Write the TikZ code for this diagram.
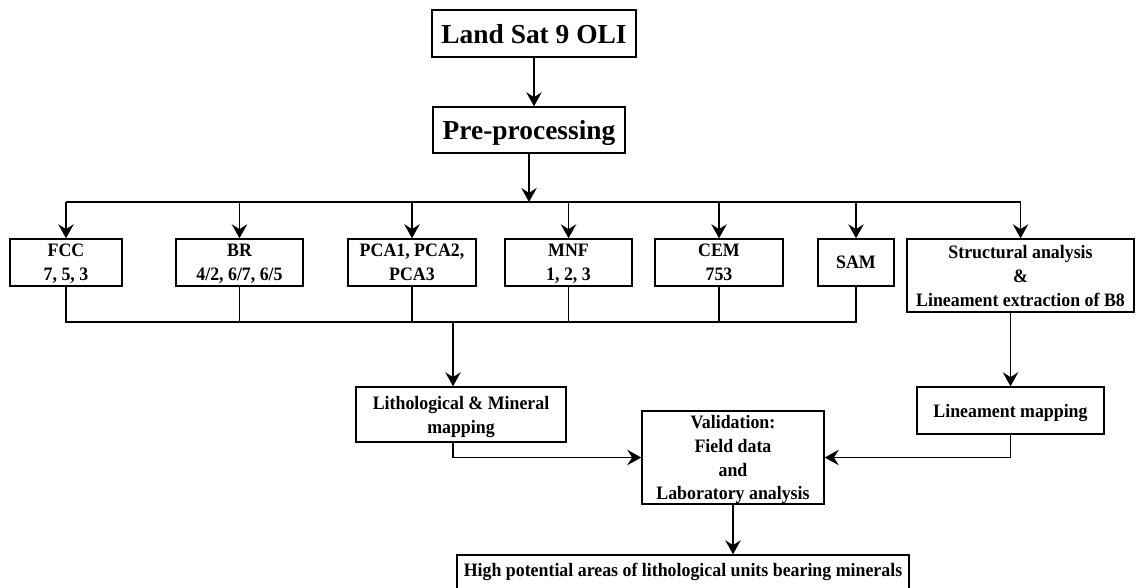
\documentclass[tikz,border=0pt]{standalone}
\usepackage{fontspec}
\setmainfont{Liberation Serif}[FakeStretch=0.94]
\newfontfamily\wideserif{Liberation Serif}
\usetikzlibrary{arrows.meta}

\tikzset{
  box/.style={draw, line width=1pt, inner sep=0pt, align=center, text depth=0pt,
    font=\fontsize{13.5}{17}\selectfont\bfseries},
  bigbox/.style={box, font=\wideserif\fontsize{19.5}{22}\selectfont\bfseries},
  arr/.style={-{Stealth[length=10pt,width=11pt,inset=3.5pt]}, line width=1pt},
  ln/.style={line width=1pt}
}

\begin{document}
\begin{tikzpicture}[x=0.025cm, y=-0.025cm]
	\useasboundingbox (0,0) rectangle (1141,587);
	% top
	\node[bigbox, minimum width=5.1cm, minimum height=1.175cm] (landsat) at (534,33.5) {Land Sat 9 OLI};
	\node[bigbox, minimum width=4.8cm, minimum height=1.15cm] (preproc) at (529,130) {Pre-processing};
	% methods
	\node[box, minimum width=2.8cm, minimum height=1.175cm] (fcc) at (66,262.5) {FCC\\7, 5, 3};
	\node[box, minimum width=3.175cm, minimum height=1.175cm] (br) at (239.5,262.5) {BR\\4/2, 6/7, 6/5};
	\node[box, minimum width=3.2cm, minimum height=1.175cm] (pca) at (412,262.5) {PCA1, PCA2,\\PCA3};
	\node[box, minimum width=3.175cm, minimum height=1.175cm] (mnf) at (568.5,262.5) {MNF\\1, 2, 3};
	\node[box, minimum width=3.2cm, minimum height=1.175cm] (cem) at (719,262.5) {CEM\\753};
	\node[box, minimum width=1.9cm, minimum height=1.175cm] (sam) at (856,262.5) {SAM};
	\node[box, minimum width=5.675cm, minimum height=1.825cm] (struct) at (1020.5,275.5) {Structural analysis\\\&\\Lineament extraction of B8};
	% results
	\node[box, minimum width=5.25cm, minimum height=1.375cm] (litho) at (461,414.5) {Lithological \& Mineral\\mapping};
	\node[box, minimum width=4.55cm, minimum height=2.325cm] (valid) at (733,457.5) {Validation:\\Field data\\and\\Laboratory analysis};
	\node[box, minimum width=4.675cm, minimum height=1.175cm] (linmap) at (1010.5,410.5) {Lineament mapping};
	\node[box, minimum width=11.3cm, minimum height=1cm, text height=9.5pt, text depth=8pt] (high) at (683,575) {High potential areas of lithological units bearing minerals};

	\coordinate (bus) at (528,202);
	\coordinate (coll) at (453,322);

	\draw[arr] (landsat.south) -- (landsat.south |- preproc.north);
	\draw[arr] (preproc.south) -- (preproc.south |- bus);
	\draw[ln] (fcc.north |- bus) -- (struct.north |- bus);
	\foreach \n in {fcc,br,pca,mnf,cem,sam,struct}
		\draw[arr] (\n.north |- bus) -- (\n.north);

	\draw[ln] (fcc.south) -- (fcc.south |- coll) -- (sam.south |- coll) -- (sam.south);
	\foreach \n in {br,pca,mnf,cem}
		\draw[ln] (\n.south) -- (\n.south |- coll);
	\draw[arr] (coll) -- (coll |- litho.north);

	\draw[arr] (struct.south -| linmap.north) -- (linmap.north);
	\draw[arr] (litho.south -| coll) |- (valid.west);
	\draw[arr] (linmap.south) |- (valid.east);
	\draw[arr] (valid.south) -- (valid.south |- high.north);
\end{tikzpicture}
\end{document}
